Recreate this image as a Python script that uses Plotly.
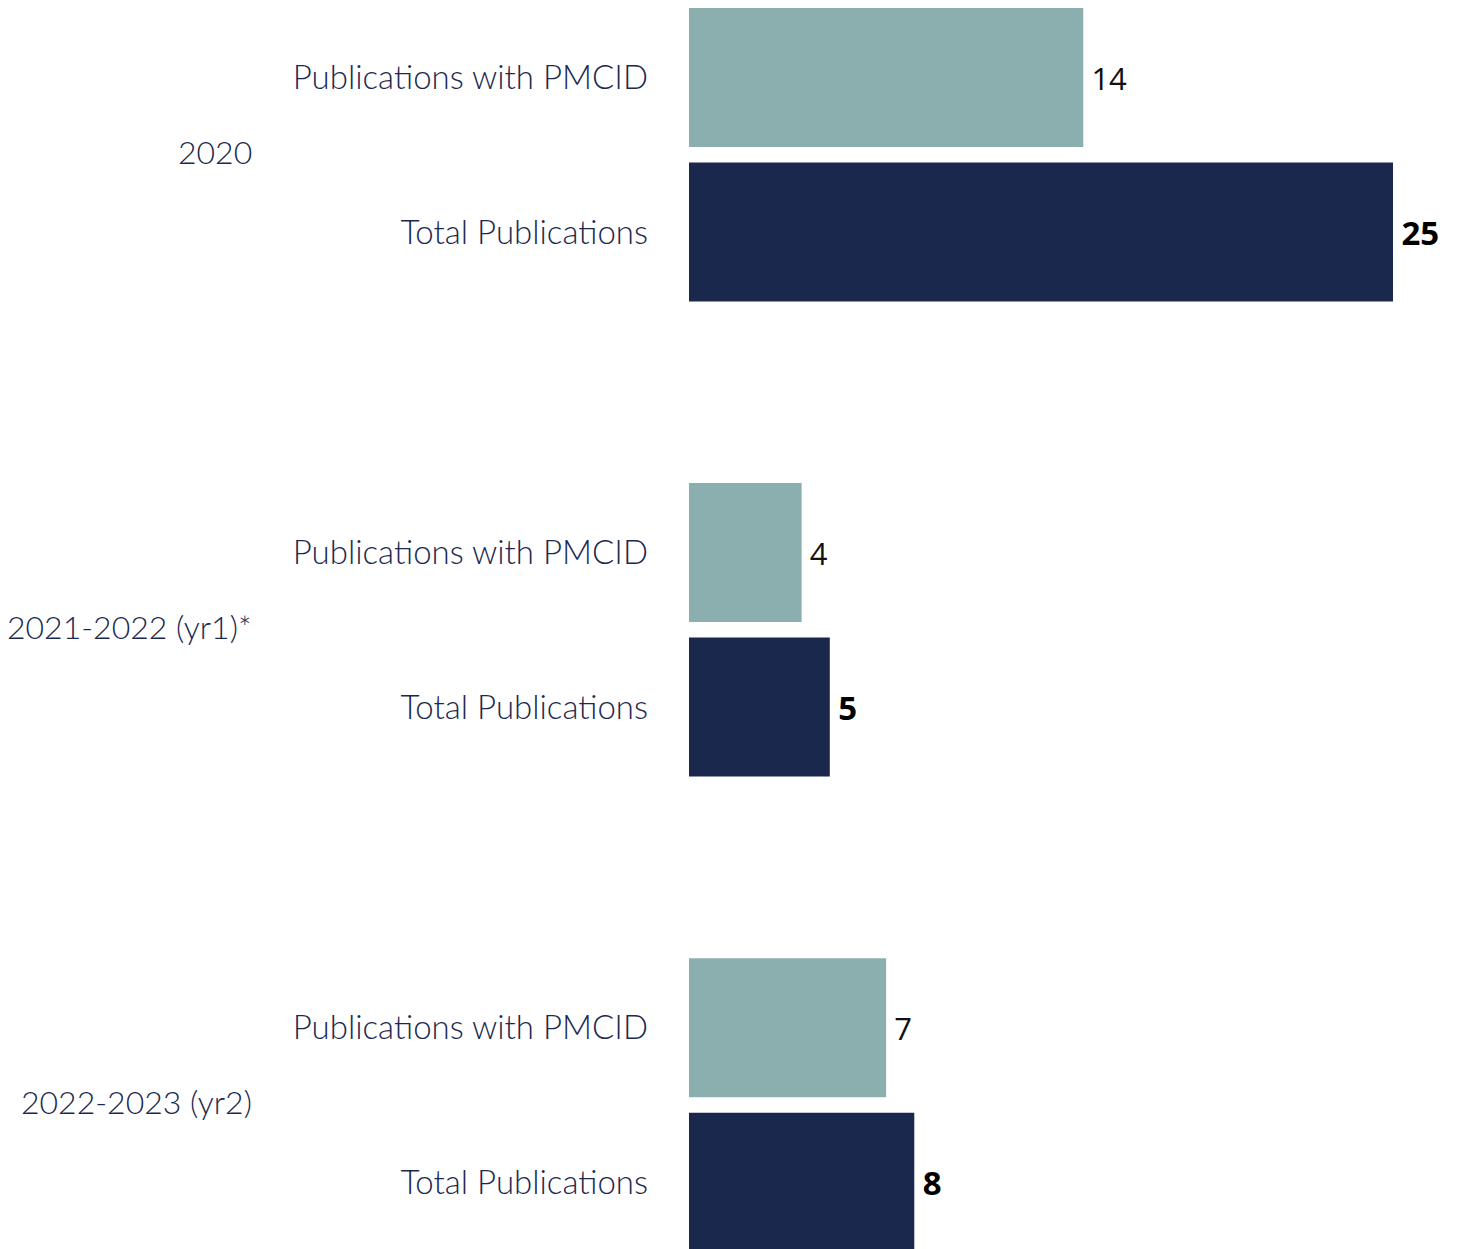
import plotly.graph_objects as go

years = ["2020", "2021-2022 (yr1)*", "2022-2023 (yr2)"]
metrics = ["Publications with PMCID", "Total Publications"]
pmcid = [14, 4, 7]
total = [25, 5, 8]

NAVY = "#1B284E"
TEAL = "#8BAFAE"
LABEL = "#1B294F"
GROUP_STEP = 3.075

y_pmcid = [i * GROUP_STEP for i in range(len(years))]
y_total = [i * GROUP_STEP + 1 for i in range(len(years))]

fig = go.Figure()
fig.add_trace(go.Bar(
    y=y_pmcid, x=pmcid, orientation="h", width=0.9,
    marker=dict(color=TEAL, line=dict(width=0)),
    text=[str(v) for v in pmcid], texttemplate="\u2009%{text}", textposition="outside",
    textfont=dict(family="Open Sans", size=31, color="#111111"),
    cliponaxis=False, showlegend=False,
))
fig.add_trace(go.Bar(
    y=y_total, x=total, orientation="h", width=0.9,
    marker=dict(color=NAVY, line=dict(width=0)),
    text=[str(v) for v in total], texttemplate="<b>\u2009%{text}</b>", textposition="outside",
    textfont=dict(family="Open Sans", size=33, color="#000000"),
    cliponaxis=False, showlegend=False,
))

tickvals = []
ticktext = []
for a, b in zip(y_pmcid, y_total):
    tickvals += [a, b]
    ticktext += [metrics[0], metrics[1]]

L = 689
W = 1458
H = 1249
px_per_unit_x = 704 / 25
px_per_unit_y = 154.5
ymin = -77.5 / px_per_unit_y
ymax = ymin + H / px_per_unit_y

for i, yr in enumerate(years):
    fig.add_annotation(
        x=(254 - L) / (W - L), xref="paper", y=(y_pmcid[i] + y_total[i]) / 2 - 0.02, yref="y",
        text=yr, showarrow=False, xanchor="right", yanchor="middle",
        font=dict(family="Lato", size=32, color=LABEL, weight=300),
    )

fig.update_layout(
    width=W, height=H,
    margin=dict(l=L, r=0, t=0, b=0, pad=0),
    paper_bgcolor="white", plot_bgcolor="white",
    bargap=0.1,
)
fig.update_xaxes(range=[0, (W - L) / px_per_unit_x], visible=False, showgrid=False, zeroline=False)
fig.update_yaxes(
    range=[ymax, ymin], tickvals=tickvals, ticktext=ticktext,
    showgrid=False, zeroline=False, showline=False, ticks="",
    tickfont=dict(family="Lato", size=33, color=LABEL, weight=300),
    ticklabelstandoff=40,
)

fig.write_html("out.html", config={"displayModeBar": False},
               post_script="document.body.style.margin='0';")
